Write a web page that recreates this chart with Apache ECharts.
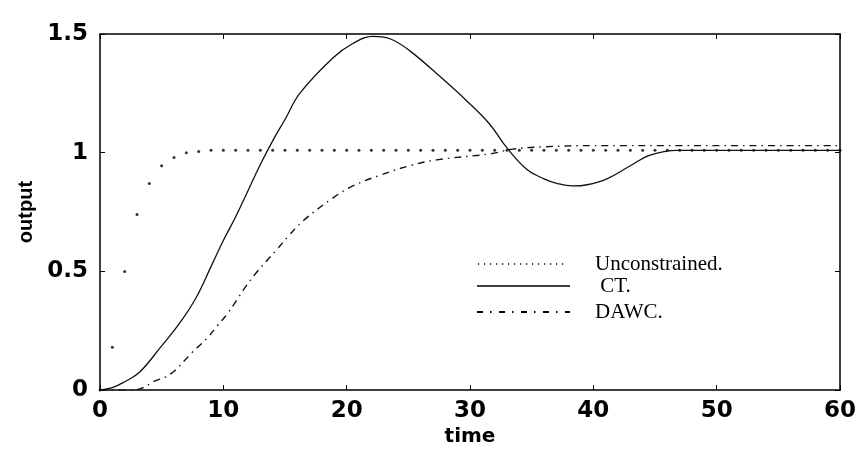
<!DOCTYPE html>
<html>
<head>
<meta charset="utf-8">
<script src="https://cdn.jsdelivr.net/npm/echarts@6/dist/echarts.min.js"></script>
<style>
  html, body { margin: 0; padding: 0; background: #fff; }
  #chart { width: 859px; height: 452px; }
</style>
</head>
<body>
<div id="chart"></div>
<script>
// time / output values
var ctTime  = [0, 1, 2, 3.2, 4.9, 6.5, 7.8, 9, 10, 11, 12, 13, 14, 15, 16.2, 18.9, 20.5, 22.1, 23.5, 25.1, 27.8, 29.7, 31.6, 33, 34.6, 36, 37.1, 38.3, 39.5, 41.1, 43, 44.6, 46.8, 50, 60];
var ctValue = [0, 0.01, 0.035, 0.075, 0.18, 0.285, 0.39, 0.52, 0.63, 0.73, 0.84, 0.95, 1.05, 1.14, 1.25, 1.40, 1.46, 1.49, 1.48, 1.43, 1.31, 1.22, 1.12, 1.02, 0.93, 0.89, 0.87, 0.86, 0.865, 0.89, 0.945, 0.99, 1.01, 1.01, 1.01];

var dawcTime  = [0, 2.7, 3.5, 4.3, 5.7, 7.5, 8.7, 9.5, 10.3, 11.1, 11.6, 12.6, 14.3, 15.3, 16.4, 18.9, 20.5, 22.7, 25.1, 27.3, 31.6, 33.5, 36, 40, 60];
var dawcValue = [0, 0, 0.01, 0.035, 0.067, 0.16, 0.22, 0.27, 0.32, 0.38, 0.42, 0.49, 0.59, 0.65, 0.71, 0.81, 0.86, 0.905, 0.945, 0.97, 0.995, 1.015, 1.025, 1.03, 1.03];

// unconstrained response, one sample per time unit (0..60)
var unconValue = [0, 0.18, 0.50, 0.74, 0.87, 0.945, 0.98, 1.0, 1.005, 1.01,
    1.01, 1.01, 1.01, 1.01, 1.01, 1.01, 1.01, 1.01, 1.01, 1.01,
    1.01, 1.01, 1.01, 1.01, 1.01, 1.01, 1.01, 1.01, 1.01, 1.01,
    1.01, 1.01, 1.01, 1.01, 1.01, 1.01, 1.01, 1.01, 1.01, 1.01,
    1.01, 1.01, 1.01, 1.01, 1.01, 1.01, 1.01, 1.01, 1.01, 1.01,
    1.01, 1.01, 1.01, 1.01, 1.01, 1.01, 1.01, 1.01, 1.01, 1.01, 1.01];

var xTicks = [0, 10, 20, 30, 40, 50, 60];
var yTicks = [0, 0.5, 1, 1.5];

var legendNames = ['Unconstrained.', ' CT.', 'DAWC.'];

////////////////////////////////////////

function pairs(ts, vs) {
    var out = [];
    ts.forEach(function (t, i) { out.push([t, vs[i]]); });
    return out;
}
var unconData = unconValue.map(function (v, i) { return [i, v]; });

var myChart = echarts.init(document.getElementById('chart'));

var axisFont = { fontFamily: 'DejaVu Sans', fontWeight: 'bold', fontSize: 23, color: '#000' };
var frameLine = { show: true, onZero: false, lineStyle: { color: '#000', width: 1.5 } };
var frameTick = { show: true, inside: true, length: 5, lineStyle: { color: '#000' } };

var option = {
    backgroundColor: '#fff',
    animation: false,
    grid: { left: 100, right: 19, top: 34, bottom: 53 },
    xAxis: [{
        type: 'value',
        min: xTicks[0], max: xTicks[xTicks.length - 1], interval: 10,
        name: 'time', nameLocation: 'middle', nameGap: 31,
        nameTextStyle: { fontFamily: 'DejaVu Sans', fontWeight: 'bold', fontSize: 20, color: '#000' },
        axisLine: frameLine,
        axisTick: frameTick,
        axisLabel: Object.assign({ margin: 9 }, axisFont),
        splitLine: { show: false }
    }, {
        type: 'value', position: 'top',
        min: 0, max: 60, interval: 10,
        axisLine: frameLine,
        axisTick: frameTick,
        axisLabel: { show: false },
        splitLine: { show: false }
    }],
    yAxis: [{
        type: 'value',
        min: yTicks[0], max: yTicks[yTicks.length - 1], interval: 0.5,
        name: 'output', nameLocation: 'middle', nameGap: 63, nameRotate: 90,
        nameTextStyle: { fontFamily: 'Liberation Sans', fontWeight: 'bold', fontSize: 20, color: '#000' },
        axisLine: frameLine,
        axisTick: frameTick,
        axisLabel: Object.assign({
            margin: 12,
            formatter: function (v) { return v === 0 || v === 1 ? String(v) : v.toFixed(1); }
        }, axisFont),
        splitLine: { show: false }
    }, {
        type: 'value', position: 'right',
        min: 0, max: 1.5, interval: 0.5,
        axisLine: frameLine,
        axisTick: frameTick,
        axisLabel: { show: false },
        splitLine: { show: false }
    }],
    series: [{
        name: legendNames[0],
        type: 'scatter',
        symbol: 'circle',
        symbolSize: 3,
        itemStyle: { color: '#000' },
        data: unconData
    }, {
        name: legendNames[1],
        type: 'line',
        smooth: 0.4,
        showSymbol: false,
        lineStyle: { color: '#111', width: 1.3 },
        data: pairs(ctTime, ctValue)
    }, {
        name: legendNames[2],
        type: 'line',
        smooth: 0.4,
        showSymbol: false,
        lineStyle: { color: '#111', width: 1.4, type: [7, 5, 1.5, 5] },
        data: pairs(dawcTime, dawcValue)
    }],
    // legend box drawn by hand (sample lines + serif text)
    graphic: [
        { type: 'line', shape: { x1: 478, y1: 264, x2: 568, y2: 264 },
          style: { stroke: '#000', lineWidth: 1.5, lineDash: [1.2, 4.8] } },
        { type: 'line', shape: { x1: 477, y1: 286, x2: 570, y2: 286 },
          style: { stroke: '#000', lineWidth: 1.6 } },
        { type: 'line', shape: { x1: 477, y1: 312, x2: 570, y2: 312 },
          style: { stroke: '#000', lineWidth: 2, lineDash: [6, 7, 1.5, 7.5] } },
        { type: 'text', x: 595, y: 264,
          style: { text: legendNames[0], font: '21px "Liberation Serif"', fill: '#000', verticalAlign: 'middle' } },
        { type: 'text', x: 595, y: 286,
          style: { text: legendNames[1], font: '21px "Liberation Serif"', fill: '#000', verticalAlign: 'middle' } },
        { type: 'text', x: 595, y: 312,
          style: { text: legendNames[2], font: '21px "Liberation Serif"', fill: '#000', verticalAlign: 'middle' } }
    ]
};

myChart.setOption(option);
</script>
</body>
</html>
